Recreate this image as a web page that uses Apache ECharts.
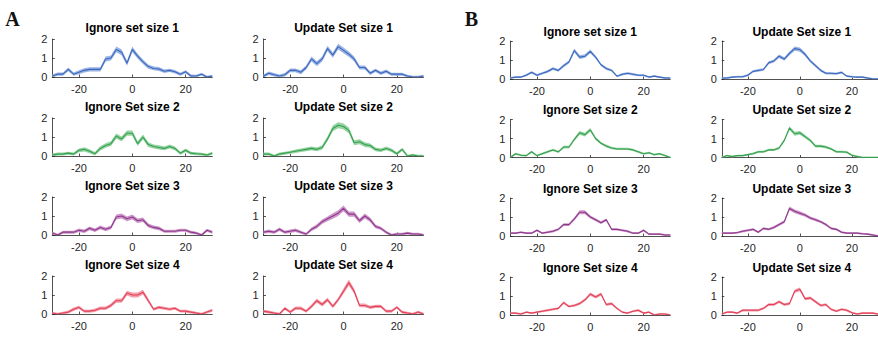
<!DOCTYPE html>
<html>
<head>
<meta charset="utf-8">
<script src="https://cdn.jsdelivr.net/npm/echarts@6/dist/echarts.min.js"></script>
<style>
html,body{margin:0;padding:0;background:#fff;}
#chart{width:878px;height:337px;}
</style>
</head>
<body>
<div id="chart"></div>
<script>
// ---- categories / ticks ----
const xVals = [-30,-28,-26,-24,-22,-20,-18,-16,-14,-12,-10,-8,-6,-4,-2,0,2,4,6,8,10,12,14,16,18,20,22,24,26,28,30];
const xTicks = [-20, 0, 20];
const yTicks = [0, 1, 2];
const panelLetters = ['A', 'B'];
const titlesLeftA  = ['Ignore set size 1', 'Ignore Set size 2', 'Ignore Set size 3', 'Ignore Set size 4'];
const titlesRightA = ['Update Set size 1', 'Update Set size 2', 'Update Set size 3', 'Update Set size 4'];
const titlesLeftB  = ['Ignore set size 1', 'Ignore Set size 2', 'Ignore Set size 3', 'Ignore Set size 4'];
const titlesRightB = ['Update Set size 1', 'Update Set size 2', 'Update Set size 3', 'Update Set size 4'];

// ---- series values (mean) ----
const aIgn1 = [0.05,0.15,0.15,0.4,0.15,0.25,0.35,0.4,0.4,0.4,0.95,1.0,1.45,1.3,0.72,1.45,1.1,0.8,0.55,0.45,0.42,0.3,0.35,0.28,0.15,0.28,0.05,0.05,0.15,0.0,0.05];
const aUpd1 = [0.05,0.2,0.12,0.05,0.12,0.35,0.35,0.25,0.5,0.95,0.7,0.95,1.5,1.15,1.6,1.4,1.2,0.95,0.5,0.5,0.2,0.35,0.2,0.3,0.15,0.15,0.15,0.05,0.0,0.0,0.05];
const aIgn2 = [0.05,0.1,0.1,0.15,0.1,0.3,0.35,0.25,0.12,0.4,0.55,0.65,1.05,0.9,1.2,1.2,0.65,1.0,0.6,0.5,0.45,0.4,0.5,0.4,0.15,0.3,0.15,0.12,0.1,0.05,0.15];
const aUpd2 = [0.1,0.1,0.0,0.1,0.15,0.2,0.25,0.3,0.35,0.4,0.35,0.45,0.9,1.45,1.62,1.55,1.35,0.7,0.75,0.6,0.55,0.35,0.3,0.4,0.3,0.12,0.35,0.0,0.05,0.0,0.0];
const aIgn3 = [0.1,0.0,0.15,0.15,0.15,0.25,0.2,0.35,0.25,0.4,0.3,0.4,0.95,1.0,0.85,0.95,0.75,0.8,0.5,0.4,0.35,0.2,0.2,0.2,0.25,0.25,0.15,0.1,0.0,0.25,0.15];
const aUpd3 = [0.15,0.2,0.15,0.3,0.15,0.2,0.25,0.15,0.05,0.3,0.45,0.7,0.85,1.0,1.15,1.4,1.1,1.1,0.75,1.0,0.8,0.45,0.35,0.15,0.0,0.05,0.05,0.1,0.05,0.05,0.0];
const aIgn4 = [0.05,0.0,0.05,0.1,0.25,0.35,0.15,0.15,0.2,0.3,0.3,0.45,0.7,0.7,1.1,1.0,1.0,1.15,0.7,0.25,0.35,0.3,0.25,0.3,0.15,0.15,0.1,0.05,0.0,0.1,0.2];
const aUpd4 = [0.15,0.1,0.05,0.0,0.3,0.1,0.3,0.3,0.15,0.4,0.7,0.5,0.75,0.4,0.75,1.2,1.65,1.2,0.45,0.45,0.35,0.4,0.4,0.15,0.15,0.35,0.1,0.05,0.0,0.1,0.0];

const bIgn1 = [0.05,0.1,0.1,0.2,0.35,0.2,0.3,0.4,0.55,0.45,0.7,0.9,1.5,1.15,1.2,1.45,1.15,0.75,0.55,0.45,0.15,0.25,0.3,0.25,0.2,0.2,0.1,0.15,0.1,0.05,0.05];
const bUpd1 = [0.05,0.05,0.1,0.12,0.12,0.2,0.4,0.45,0.5,0.85,0.95,1.2,1.05,1.35,1.6,1.55,1.3,0.95,0.7,0.45,0.3,0.3,0.28,0.35,0.15,0.12,0.1,0.1,0.05,0.0,0.0];
const bIgn2 = [0.0,0.2,0.12,0.1,0.3,0.1,0.2,0.3,0.4,0.3,0.55,0.55,0.95,1.3,1.2,1.45,1.0,0.75,0.6,0.5,0.45,0.45,0.45,0.4,0.3,0.2,0.25,0.15,0.2,0.1,0.0];
const bUpd2 = [0.0,0.1,0.05,0.1,0.1,0.15,0.2,0.3,0.3,0.4,0.4,0.5,0.9,1.55,1.25,1.3,1.1,0.9,0.6,0.6,0.55,0.45,0.3,0.3,0.28,0.12,0.05,0.0,0.0,0.0,0.0];
const bIgn3 = [0.15,0.15,0.2,0.15,0.15,0.3,0.15,0.2,0.25,0.35,0.6,0.6,0.9,1.25,1.25,1.0,0.85,0.7,0.85,0.35,0.35,0.3,0.25,0.15,0.15,0.3,0.1,0.1,0.1,0.05,0.05];
const bUpd3 = [0.15,0.15,0.15,0.18,0.25,0.3,0.35,0.2,0.4,0.35,0.45,0.6,0.75,1.45,1.3,1.2,1.1,0.95,0.85,0.75,0.6,0.4,0.35,0.2,0.15,0.15,0.15,0.12,0.1,0.05,0.0];
const bIgn4 = [0.1,0.1,0.05,0.15,0.1,0.15,0.2,0.25,0.3,0.35,0.65,0.45,0.5,0.6,0.8,1.1,0.95,1.1,0.55,0.6,0.35,0.15,0.1,0.2,0.25,0.1,0.15,0.0,0.05,0.05,0.0];
const bUpd4 = [0.05,0.15,0.15,0.1,0.25,0.25,0.25,0.25,0.35,0.55,0.55,0.7,0.55,0.6,1.25,1.35,0.85,0.9,0.7,0.5,0.55,0.3,0.2,0.3,0.25,0.12,0.05,0.1,0.1,0.1,0.05];

// ---- error band half-widths ----
const aIgn1Err = [0.08,0.09,0.09,0.1,0.09,0.1,0.11,0.11,0.11,0.11,0.13,0.13,0.15,0.15,0.13,0.15,0.13,0.12,0.11,0.1,0.1,0.09,0.09,0.09,0.08,0.08,0.08,0.07,0.07,0.07,0.07];
const aUpd1Err = [0.08,0.09,0.09,0.08,0.09,0.1,0.1,0.1,0.11,0.13,0.13,0.13,0.15,0.14,0.15,0.15,0.14,0.13,0.11,0.11,0.09,0.09,0.09,0.09,0.08,0.08,0.08,0.07,0.07,0.07,0.07];
const aIgn2Err = [0.08,0.08,0.08,0.08,0.08,0.1,0.11,0.1,0.09,0.11,0.12,0.13,0.14,0.13,0.14,0.14,0.12,0.13,0.12,0.11,0.11,0.1,0.11,0.1,0.08,0.09,0.08,0.08,0.07,0.07,0.08];
const aUpd2Err = [0.08,0.08,0.07,0.08,0.08,0.08,0.09,0.09,0.1,0.1,0.1,0.11,0.13,0.15,0.16,0.16,0.15,0.13,0.13,0.12,0.11,0.1,0.09,0.1,0.09,0.08,0.09,0.07,0.07,0.07,0.07];
const aIgn3Err = [0.08,0.07,0.08,0.08,0.08,0.09,0.09,0.1,0.09,0.1,0.1,0.1,0.13,0.13,0.12,0.13,0.12,0.12,0.11,0.1,0.1,0.08,0.08,0.08,0.08,0.08,0.08,0.07,0.07,0.08,0.08];
const aUpd3Err = [0.08,0.09,0.08,0.09,0.08,0.09,0.09,0.08,0.07,0.09,0.11,0.12,0.13,0.14,0.15,0.15,0.14,0.14,0.12,0.13,0.12,0.1,0.09,0.08,0.07,0.07,0.07,0.07,0.07,0.07,0.07];
const aIgn4Err = [0.07,0.07,0.07,0.08,0.09,0.09,0.08,0.08,0.09,0.09,0.09,0.1,0.11,0.11,0.13,0.13,0.13,0.13,0.11,0.08,0.09,0.08,0.08,0.08,0.07,0.07,0.07,0.07,0.07,0.07,0.08];
const aUpd4Err = [0.08,0.08,0.07,0.07,0.08,0.08,0.09,0.09,0.08,0.1,0.11,0.1,0.11,0.1,0.11,0.14,0.16,0.14,0.1,0.1,0.09,0.09,0.09,0.08,0.08,0.08,0.07,0.07,0.07,0.07,0.07];

const bIgn1Err = [0.05,0.05,0.05,0.06,0.06,0.06,0.06,0.07,0.07,0.07,0.08,0.08,0.1,0.1,0.1,0.1,0.08,0.07,0.07,0.06,0.05,0.06,0.06,0.06,0.05,0.05,0.05,0.05,0.05,0.05,0.05];
const bUpd1Err = [0.05,0.05,0.05,0.05,0.05,0.06,0.06,0.07,0.07,0.08,0.08,0.09,0.09,0.1,0.11,0.11,0.1,0.08,0.08,0.07,0.06,0.06,0.06,0.06,0.05,0.05,0.05,0.05,0.05,0.05,0.05];
const bIgn2Err = [0.05,0.05,0.05,0.05,0.06,0.05,0.06,0.06,0.06,0.06,0.07,0.07,0.08,0.1,0.1,0.1,0.08,0.07,0.07,0.07,0.06,0.06,0.06,0.06,0.06,0.05,0.05,0.05,0.05,0.05,0.05];
const bUpd2Err = [0.05,0.05,0.05,0.05,0.05,0.05,0.06,0.06,0.06,0.06,0.06,0.07,0.08,0.1,0.1,0.1,0.09,0.08,0.07,0.07,0.07,0.06,0.06,0.06,0.06,0.05,0.05,0.05,0.05,0.05,0.05];
const bIgn3Err = [0.05,0.05,0.05,0.05,0.05,0.06,0.05,0.06,0.06,0.06,0.07,0.07,0.08,0.1,0.1,0.08,0.08,0.07,0.07,0.06,0.06,0.06,0.06,0.05,0.05,0.06,0.05,0.05,0.05,0.05,0.05];
const bUpd3Err = [0.05,0.05,0.05,0.05,0.06,0.06,0.06,0.06,0.06,0.06,0.07,0.07,0.08,0.1,0.1,0.1,0.09,0.08,0.08,0.07,0.07,0.06,0.06,0.06,0.05,0.05,0.05,0.05,0.05,0.05,0.05];
const bIgn4Err = [0.05,0.05,0.05,0.05,0.05,0.05,0.06,0.06,0.06,0.06,0.07,0.06,0.07,0.07,0.07,0.09,0.08,0.09,0.07,0.07,0.06,0.05,0.05,0.05,0.06,0.05,0.05,0.05,0.05,0.05,0.05];
const bUpd4Err = [0.05,0.05,0.05,0.05,0.06,0.06,0.06,0.06,0.06,0.07,0.07,0.07,0.07,0.07,0.09,0.1,0.08,0.08,0.07,0.07,0.07,0.06,0.06,0.06,0.06,0.05,0.05,0.05,0.05,0.05,0.05];

// ---- styles ----
const lineColors = ['#3b68bd', '#36a04f', '#8e3a8c', '#e3405a'];
const bandColors = ['#9bb4e4', '#95d3a2', '#cd96c9', '#f3a0ab'];
const FONT = '"Liberation Sans", Arial, Helvetica, sans-serif';

// ---- layout ----
const colLeft = [52.3, 263.5, 510.3, 721.8];
const rowTopA = [39, 118, 197, 276];
const rowTopB = [41, 119.5, 198, 277];
const plotW = 160, plotH = 38;

const panels = [];
const meansA = [[aIgn1,aUpd1],[aIgn2,aUpd2],[aIgn3,aUpd3],[aIgn4,aUpd4]];
const errsA  = [[aIgn1Err,aUpd1Err],[aIgn2Err,aUpd2Err],[aIgn3Err,aUpd3Err],[aIgn4Err,aUpd4Err]];
const meansB = [[bIgn1,bUpd1],[bIgn2,bUpd2],[bIgn3,bUpd3],[bIgn4,bUpd4]];
const errsB  = [[bIgn1Err,bUpd1Err],[bIgn2Err,bUpd2Err],[bIgn3Err,bUpd3Err],[bIgn4Err,bUpd4Err]];
for (let r = 0; r < 4; r++) {
  panels.push({m: meansA[r][0], e: errsA[r][0], t: titlesLeftA[r],  left: colLeft[0], top: rowTopA[r], c: r, dt: 11});
  panels.push({m: meansA[r][1], e: errsA[r][1], t: titlesRightA[r], left: colLeft[1], top: rowTopA[r], c: r, dt: 11});
  panels.push({m: meansB[r][0], e: errsB[r][0], t: titlesLeftB[r],  left: colLeft[2], top: rowTopB[r], c: r, dt: 9.5});
  panels.push({m: meansB[r][1], e: errsB[r][1], t: titlesRightB[r], left: colLeft[3], top: rowTopB[r], c: r, dt: 9.5});
}

const grid = [], xAxis = [], yAxis = [], series = [], graphic = [];
panels.forEach((p, i) => {
  grid.push({left: p.left, top: p.top, width: plotW, height: plotH, containLabel: false});
  xAxis.push({
    gridIndex: i, type: 'value', min: -30, max: 30,
    axisLine: {show: true, onZero: false, lineStyle: {color: '#262626', width: 0.8}},
    axisTick: {show: true, inside: true, length: 2.5, customValues: xTicks, lineStyle: {color: '#262626', width: 0.8}},
    axisLabel: {show: true, customValues: xTicks, fontSize: 11, color: '#262626', margin: 6, fontFamily: FONT},
    splitLine: {show: false}
  });
  yAxis.push({
    gridIndex: i, type: 'value', min: yTicks[0], max: yTicks[yTicks.length - 1], interval: 1,
    axisLine: {show: true, onZero: false, lineStyle: {color: '#262626', width: 0.8}},
    axisTick: {show: true, inside: true, length: 2.5, lineStyle: {color: '#262626', width: 0.8}},
    axisLabel: {show: true, fontSize: 11, color: '#262626', margin: 5, fontFamily: FONT},
    splitLine: {show: false}
  });
  const bandData = xVals.map((x, k) => [x, p.m[k] - p.e[k], p.m[k] + p.e[k]]);
  const mean = xVals.map((x, k) => [x, p.m[k]]);
  const color = bandColors[p.c];
  series.push({
    type: 'custom', xAxisIndex: i, yAxisIndex: i, data: bandData, clip: true,
    encode: {x: 0, y: [1, 2]}, silent: true, animation: false, z: 1,
    renderItem: function (params, api) {
      if (params.dataIndex !== 0) return null;
      const upper = [], lower = [];
      bandData.forEach(d => {
        upper.push(api.coord([d[0], d[2]]));
        lower.push(api.coord([d[0], d[1]]));
      });
      return {
        type: 'polygon',
        shape: {points: upper.concat(lower.reverse())},
        style: {fill: color}
      };
    }
  });
  series.push({
    type: 'line', xAxisIndex: i, yAxisIndex: i, data: mean, symbol: 'none', clip: true,
    lineStyle: {color: lineColors[p.c], width: 1.1}, animation: false, z: 3
  });
  graphic.push({
    type: 'text', x: p.left + plotW / 2, y: p.top - p.dt, z: 10,
    style: {text: p.t, font: 'bold 12px ' + FONT, fill: '#000', align: 'center', verticalAlign: 'middle'}
  });
});
graphic.push({type: 'text', x: 12.5, y: 18.5, style: {text: panelLetters[0], font: 'bold 20px "Liberation Serif", "Times New Roman", serif', fill: '#111', align: 'center', verticalAlign: 'middle'}});
graphic.push({type: 'text', x: 471.5, y: 18.5, style: {text: panelLetters[1], font: 'bold 20px "Liberation Serif", "Times New Roman", serif', fill: '#111', align: 'center', verticalAlign: 'middle'}});

const chart = echarts.init(document.getElementById('chart'), null, {renderer: 'svg'});
chart.setOption({
  backgroundColor: '#fff',
  animation: false,
  grid, xAxis, yAxis, series, graphic
});
</script>
</body>
</html>
